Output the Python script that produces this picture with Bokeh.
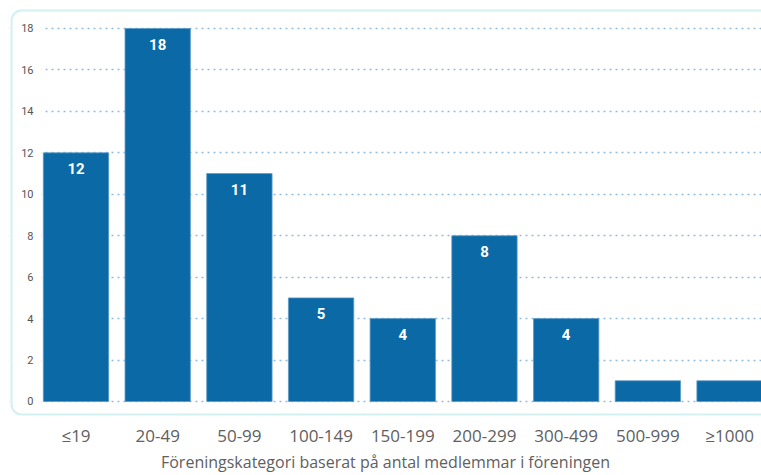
from bokeh.plotting import figure
from bokeh.models import ColumnDataSource, FixedTicker, BoxAnnotation, Range1d
from bokeh.core.properties import value
from bokeh.embed import file_html
from bokeh.resources import INLINE

categories = ["≤19", "20-49", "50-99", "100-149", "150-199", "200-299", "300-499", "500-999", "≥1000"]
counts = [12, 18, 11, 5, 4, 8, 4, 1, 1]
y_ticks = [0, 2, 4, 6, 8, 10, 12, 14, 16, 18]
x_title = "Föreningskategori baserat på antal medlemmar i föreningen"

xs = list(range(len(categories)))
labels = [str(c) if c >= 4 else "" for c in counts]
src = ColumnDataSource(dict(x=xs, top=counts, label=labels))

p = figure(width=761, height=475, output_backend="svg", toolbar_location=None,
           x_range=Range1d(-0.814, 8.391), y_range=Range1d(-0.724, 18.965),
           min_border_left=9, min_border_right=0, min_border_top=8, min_border_bottom=59)
p.outline_line_color = None
p.background_fill_color = "white"
p.border_fill_color = "white"

# white mask so the dotted grid starts right of the tick labels
mask = BoxAnnotation(right=-0.422, fill_color="white", fill_alpha=1.0,
                     line_color=None, level="glyph")
p.add_layout(mask)

# rounded teal frame around the plotting area
box = BoxAnnotation(left=-0.789, right=9.5, bottom=-0.627, top=18.869,
                    fill_color=None, fill_alpha=0, line_color="#6ccdd1",
                    line_width=2, border_radius=10)
p.add_layout(box)

p.vbar(x="x", top="top", width=0.8, bottom=0, source=src,
       fill_color="#0b69a5", line_color="#5d9bc8", line_width=0.8)
p.text(x="x", y="top", text="label", source=src, y_offset=16,
       text_align="center", text_baseline="middle", text_color="white",
       text_font=value("Roboto"), text_font_size="15px", text_font_style="bold")

p.xgrid.visible = False
p.ygrid.ticker = FixedTicker(ticks=y_ticks)
p.ygrid.grid_line_color = "#8fbde2"
p.ygrid.grid_line_dash = "2 4"
p.ygrid.grid_line_width = 1.5

p.yaxis.ticker = FixedTicker(ticks=y_ticks)
p.yaxis.axis_line_color = None
p.yaxis.major_tick_line_color = None
p.yaxis.minor_tick_line_color = None
p.yaxis.major_tick_out = 0
p.yaxis.minor_tick_out = 0
p.yaxis.major_label_text_font = "Roboto"
p.yaxis.major_label_text_font_size = "11px"
p.yaxis.major_label_text_color = "#555555"
p.yaxis.major_label_standoff = -24

p.xaxis.ticker = FixedTicker(ticks=xs)
p.xaxis.major_label_overrides = {i: c for i, c in enumerate(categories)}
p.xaxis.axis_line_color = None
p.xaxis.major_tick_line_color = None
p.xaxis.minor_tick_line_color = None
p.xaxis.major_tick_out = 0
p.xaxis.minor_tick_out = 0
p.xaxis.major_label_text_font = "Open Sans"
p.xaxis.major_label_text_font_size = "17px"
p.xaxis.major_label_text_color = "#606060"
p.xaxis.major_label_standoff = 7
p.xaxis.axis_label = x_title
p.xaxis.axis_label_text_font = "Open Sans"
p.xaxis.axis_label_text_font_size = "16px"
p.xaxis.axis_label_text_font_style = "normal"
p.xaxis.axis_label_text_color = "#606060"
p.xaxis.axis_label_standoff = 1

open("out.html", "w").write(file_html(p, INLINE))
